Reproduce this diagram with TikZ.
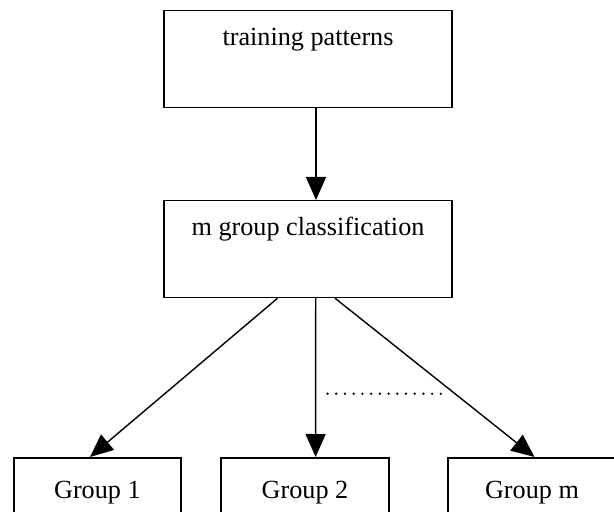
\documentclass[tikz,border=0pt]{standalone}
\usepackage{fontspec}
\setmainfont{Liberation Serif}
\usetikzlibrary{arrows.meta}
\begin{document}
\begin{tikzpicture}[x=0.5pt,y=-0.5pt,
    box/.style={draw,line width=0.75pt,inner xsep=0pt,inner ysep=0pt,anchor=north,
      font=\fontsize{13.1}{15}\selectfont,text depth=30.85pt},
    arr/.style={line width=0.7pt,-{Triangle[length=11.5pt,width=10pt]}},
    dotrow/.style={line width=1.3pt,line cap=round,dash pattern=on 0pt off 4.36pt}]
  \useasboundingbox (0,0) rectangle (614,512);
  \clip (0,0) rectangle (614,512);
  % upper part
  \node[box,minimum width=144pt,text height=17.5pt] (train) at (308,10) {training patterns};
  \node[box,minimum width=144pt,text height=17.5pt] (mgrp) at (308,200) {m group classification};
  \draw[arr] ([xshift=4pt]train.south) -- ([xshift=4pt]mgrp.north);
  % groups
  \node[box,minimum width=83.5pt,text height=20.5pt] (g1) at (97.4,457) {Group 1};
  \node[box,minimum width=84pt,text height=20.5pt] (g2) at (305,457) {Group 2};
  \node[box,minimum width=84pt,text height=20.5pt] (gm) at (532,457) {Group m};
  \draw[arr] ([xshift=-15.2pt]mgrp.south) -- ([xshift=-3.7pt]g1.north);
  \draw[arr] ([xshift=3.85pt]mgrp.south) -- ([xshift=5.3pt]g2.north);
  \draw[arr] ([xshift=13.5pt]mgrp.south) -- ([xshift=1.25pt]gm.north);
  \coordinate (d1) at (327.5,393.7); \coordinate (d2) at (441,393.7);
  \draw[dotrow] (d1) -- (d2);
\end{tikzpicture}
\end{document}
